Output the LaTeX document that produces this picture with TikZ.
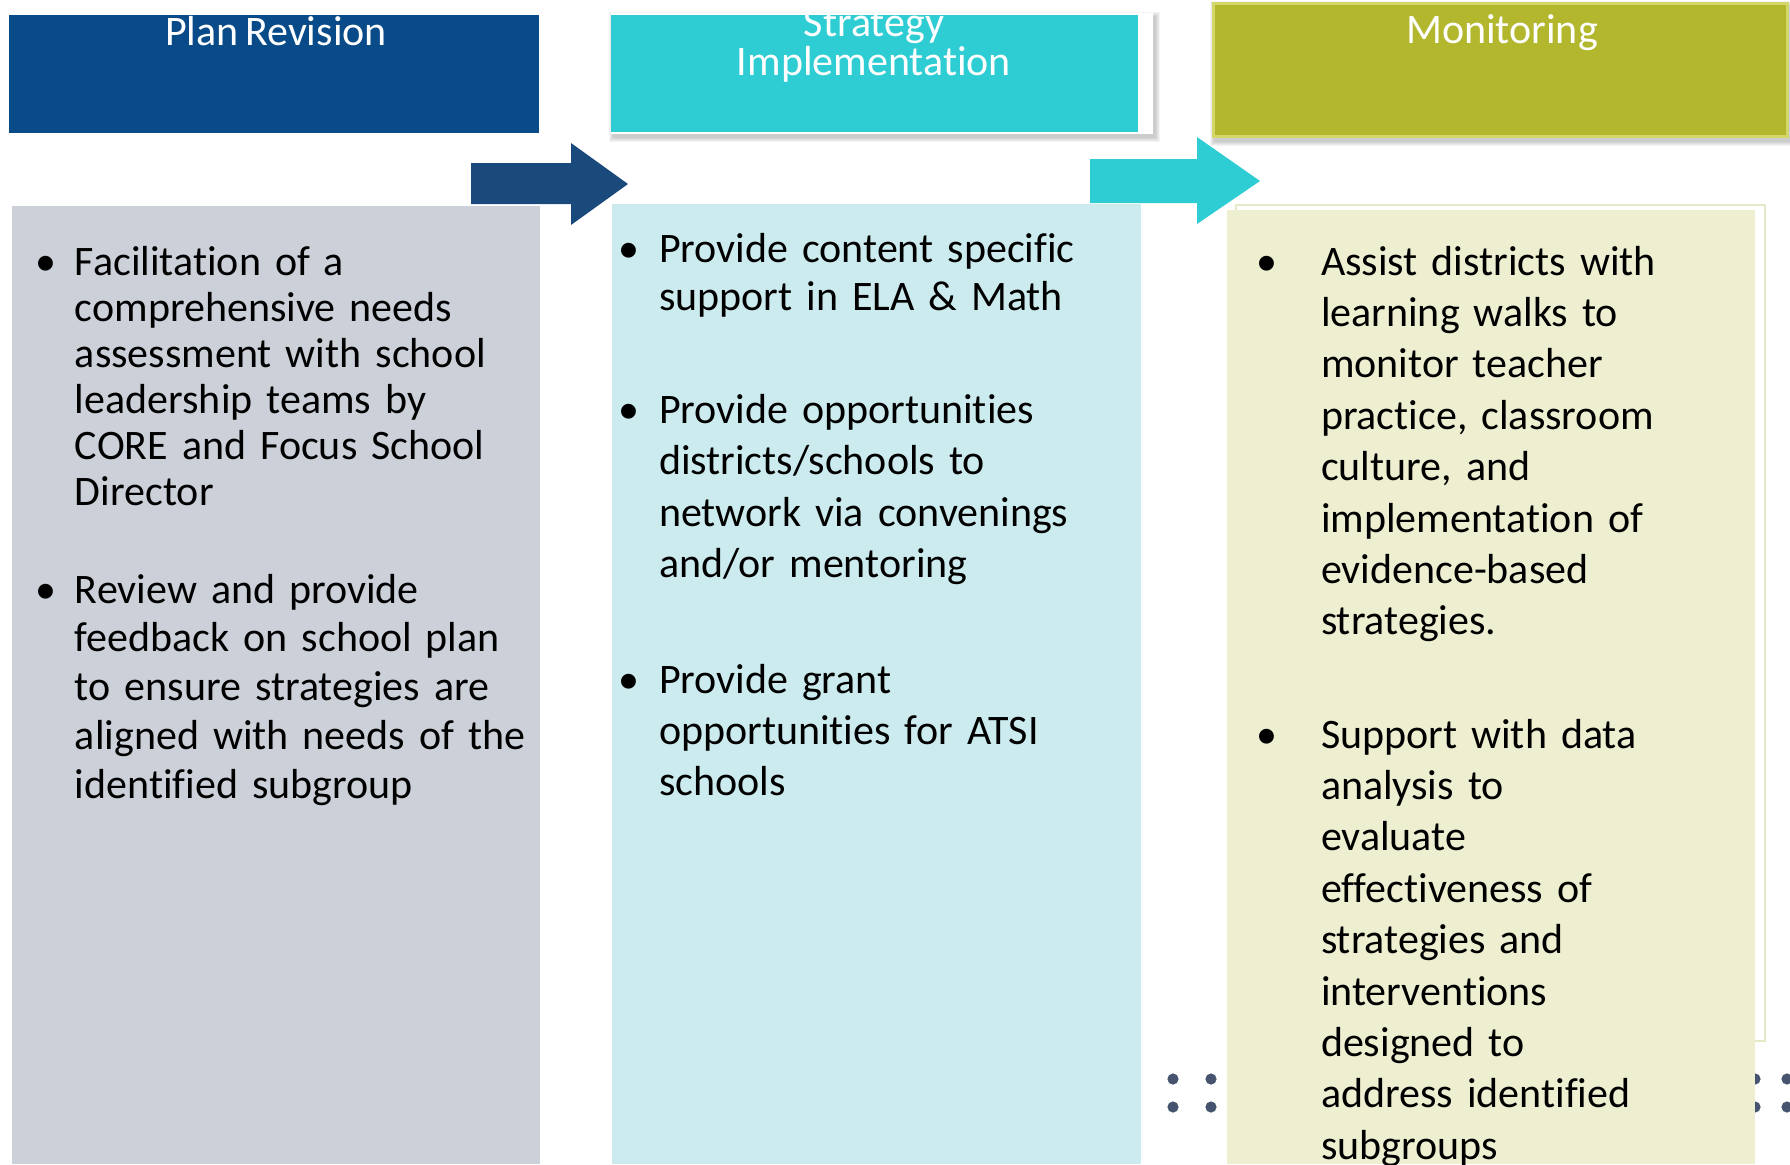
\documentclass[tikz,border=0pt]{standalone}
\usepackage{fontspec}
\setmainfont{Carlito}[Ligatures={NoCommon,NoContextual,NoRare}]
\newfontfamily\bodyfam{Carlito}[Ligatures={NoCommon,NoContextual,NoRare}]
\newcommand\bodysize[1]{\bodyfam\fontsize{21pt}{#1}\selectfont\spaceskip=3.3pt plus 0pt minus 0pt\relax}
\definecolor{hdrblue}{HTML}{094A88}
\definecolor{arrblue}{HTML}{1A4A7C}
\definecolor{hdrcyan}{HTML}{2ECCD3}
\definecolor{hdrolive}{HTML}{B3B72D}
\definecolor{oliveedge}{HTML}{D4D76A}
\definecolor{panelgray}{HTML}{CBD0D9}
\definecolor{panelcyan}{HTML}{CCEBEE}
\definecolor{panelolive}{HTML}{EEEFD1}
\definecolor{paneledge}{HTML}{E6E8C6}
\definecolor{dotcol}{HTML}{46546F}
\begin{document}
\begin{tikzpicture}[x=0.5pt,y=-0.5pt,
  hdrtext/.style={text=white, inner sep=0pt, outer sep=0pt, align=center, anchor=base,
    font=\bodysize{16.5pt}},
  bul/.style={inner sep=0pt, outer sep=0pt, anchor=base, font=\bodysize{23pt}},
  body/.style={anchor=base west, inner sep=0pt, outer sep=0pt, align=left, text width=260pt},
  lead/.style={font=\bodysize{#1}},
  shadowpiece/.style={fill=black, opacity=0.045}
]
\useasboundingbox (0,0) rectangle (1790,1164);
\clip (0,0) rectangle (1790,1164);

% ---------- headers ----------
\fill[hdrblue] (9,15) rectangle (539,133);

\foreach \i in {1,...,5}{
  \fill[shadowpiece] (611-\i+3,13-\i+4) rectangle (1153+\i+2,134+\i+3);
}
\fill[white] (611,13) rectangle (1153,134);
\fill[hdrcyan] (611,15) rectangle (1138,132);

\foreach \i in {1,...,5}{
  \fill[shadowpiece] (1212-\i+3,2-\i+4) rectangle (1795,137+\i+4);
}
\fill[hdrolive, draw=oliveedge, line width=1.5pt] (1213,3) rectangle (1787,136);

\node[hdrtext] (t1) at (276,45) {Plan Revision};
\node[hdrtext] (t2) at (874,75) {Strategy\\Implementation};
\node[hdrtext] (t3) at (1502,43) {Monitoring};

% ---------- decorative dots ----------
\foreach \x in {1173,1211,1755,1787}{
  \foreach \y in {1079,1107}{
    \fill[dotcol] (\x,\y) circle[radius=2.8pt];
  }
}

% ---------- panels ----------
\fill[panelgray] (12,206) rectangle (540,1164);
\fill[panelcyan] (612,204) rectangle (1141,1164);
\draw[paneledge, line width=1pt] (1236,205) rectangle (1765,1041);
\fill[panelolive] (1227,210) rectangle (1755,1164);

% ---------- arrows ----------
\fill[arrblue] (471,163) -- (571,163) -- (571,143) -- (628,184) -- (571,225) -- (571,204) -- (471,204) -- cycle;
\fill[hdrcyan] (1090,159) -- (1197,159) -- (1197,137) -- (1260,181) -- (1197,224) -- (1197,203) -- (1090,203) -- cycle;

% ---------- panel 1 ----------
\node[bul] (b11) at (46,275) {•};
\node[body, lead=23pt] (p11) at (75,275) {Facilitation of a\\comprehensive needs\\assessment with school\\leadership teams by\\CORE and Focus School\\Director};
\node[bul] (b12) at (46,603) {•};
\node[body, lead=24.4pt] (p12) at (75,603) {Review and provide\\feedback on school plan\\to ensure strategies are\\aligned with needs of the\\identified subgroup};

% ---------- panel 2 ----------
\node[bul] (b21) at (629,262) {•};
\node[body, lead=24pt] (p21) at (659,262) {Provide content specific\\support in ELA \& Math};
\node[bul] (b22) at (629,423) {•};
\node[body, lead=25.8pt] (p22) at (659,423) {Provide opportunities\\districts/schools to\\network via convenings\\and/or mentoring};
\node[bul] (b23) at (629,693) {•};
\node[body, lead=25.5pt] (p23) at (659,693) {Provide grant\\opportunities for ATSI\\schools};

% ---------- panel 3 ----------
\node[bul] (b31) at (1267,275) {•};
\node[body, lead=25.7pt] (p31) at (1321,275) {Assist districts with\\learning walks to\\monitor teacher\\practice, classroom\\culture, and\\implementation of\\evidence-based\\strategies.};
\node[bul] (b32) at (1267,748) {•};
\node[body, lead=25.7pt] (p32) at (1321,748) {Support with data\\analysis to\\evaluate\\effectiveness of\\strategies and\\interventions\\designed to\\address identified\\subgroups};
\end{tikzpicture}
\end{document}
